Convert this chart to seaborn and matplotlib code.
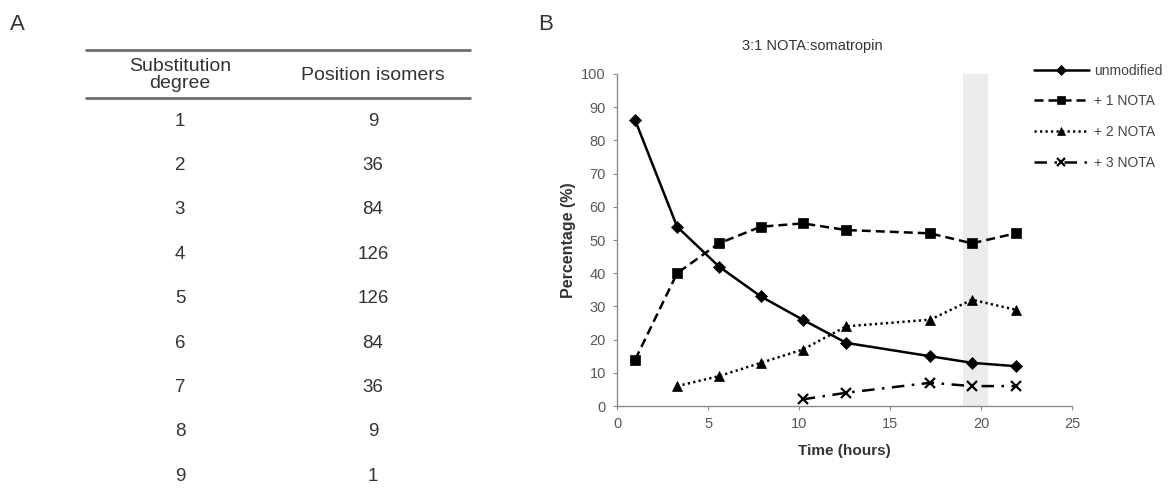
import matplotlib
matplotlib.use("Agg")
import matplotlib.pyplot as plt
import seaborn as sns
import numpy as np
import pandas as pd

# panel A table
subst_degree = [1, 2, 3, 4, 5, 6, 7, 8, 9]
position_isomers = [9, 36, 84, 126, 126, 84, 36, 9, 1]

# panel B data
time_h = [1.0, 3.3, 5.6, 7.9, 10.2, 12.6, 17.2, 19.5, 21.9]
unmodified = [86, 54, 42, 33, 26, 19, 15, 13, 12]
nota1 = [14, 40, 49, 54, 55, 53, 52, 49, 52]
nota2 = [None, 6, 9, 13, 17, 24, 26, 32, 29]
nota3 = [None, None, None, None, 2, 4, 7, 6, 6]
shade_span = (19.0, 20.4)

series = {
    "unmodified": unmodified,
    "+ 1 NOTA": nota1,
    "+ 2 NOTA": nota2,
    "+ 3 NOTA": nota3,
}
markers = {"unmodified": "D", "+ 1 NOTA": "s", "+ 2 NOTA": "^", "+ 3 NOTA": "x"}
msizes = {"unmodified": 6.5, "+ 1 NOTA": 7, "+ 2 NOTA": 7.5, "+ 3 NOTA": 7}
styles = {
    "unmodified": "-",
    "+ 1 NOTA": (0, (3.6, 2.0)),
    "+ 2 NOTA": (0, (0.9, 1.3)),
    "+ 3 NOTA": (0, (5, 3, 1, 3)),
}

sns.set_style("white")
plt.rcParams["font.family"] = ["Liberation Sans", "DejaVu Sans"]

TXT = "#333333"
AX = "#8c8c8c"

fig = plt.figure(figsize=(11.68, 4.9), dpi=100)

# ---- panel A: table drawn in pixel coords ----
axt = fig.add_axes([0, 0, 1, 1])
axt.set_xlim(0, 1168)
axt.set_ylim(490, 0)
axt.axis("off")
axt.text(10, 25, "A", fontsize=16, color=TXT, va="center", ha="left")
axt.text(538, 25, "B", fontsize=16, color=TXT, va="center", ha="left")
axt.plot([86, 470], [50, 50], color="#6e6e6e", lw=2)
axt.plot([86, 470], [98, 98], color="#6e6e6e", lw=2)
axt.text(180, 75, "Substitution\ndegree", fontsize=14, color=TXT,
         ha="center", va="center", linespacing=1.0)
axt.text(373, 75, "Position isomers", fontsize=14, color=TXT,
         ha="center", va="center")
for i, (d, p) in enumerate(zip(subst_degree, position_isomers)):
    y = 121 + i * 44.4
    axt.text(180, y, str(d), fontsize=13.5, color=TXT, ha="center", va="center")
    axt.text(373, y, str(p), fontsize=13.5, color=TXT, ha="center", va="center")

# ---- panel B ----
ax = fig.add_axes([0.5283, 0.1714, 0.3896, 0.6776])
ax.axvspan(*shade_span, color="#ececec", zorder=0, lw=0)

df = pd.DataFrame({"time": time_h, **series})
for name in series:
    sub = df[["time", name]].dropna()
    sns.lineplot(x=sub["time"], y=sub[name], ax=ax, color="black",
                 marker=markers[name], markersize=msizes[name],
                 markeredgecolor="black", markerfacecolor="black",
                 markeredgewidth=1.6 if name == "+ 3 NOTA" else 0.5,
                 linestyle=styles[name], linewidth=1.8, label=name)

ax.set_xlim(0, 25)
ax.set_ylim(0, 100)
ax.set_xticks(range(0, 26, 5))
ax.set_yticks(range(0, 101, 10))
for s in ["top", "right"]:
    ax.spines[s].set_visible(False)
for s in ["left", "bottom"]:
    ax.spines[s].set_color(AX)
    ax.spines[s].set_linewidth(1.0)
ax.tick_params(axis="both", colors=AX, labelcolor="#595959", labelsize=10.5,
               length=3, width=0.8, direction="out", left=True, bottom=True, pad=5)
ax.set_xlabel("Time (hours)", fontsize=11, fontweight="bold", color=TXT, labelpad=9)
ax.set_ylabel("Percentage (%)", fontsize=11.5, fontweight="bold", color=TXT, labelpad=4)
ax.set_title("3:1 NOTA:somatropin", fontsize=10.5, color=TXT, pad=17,
             x=(812 - 617) / 455)

handles, labels = ax.get_legend_handles_labels()
leg = ax.legend(handles, labels, loc="upper left",
                bbox_to_anchor=(1021 / 1168, 1 - 51 / 490),
                bbox_transform=fig.transFigure, frameon=False,
                fontsize=10, handlelength=4.0, handletextpad=0.35,
                labelspacing=1.2, markerscale=0.8)
for t in leg.get_texts():
    t.set_color("#444444")

fig.savefig("out.png", dpi=100, facecolor="white")
